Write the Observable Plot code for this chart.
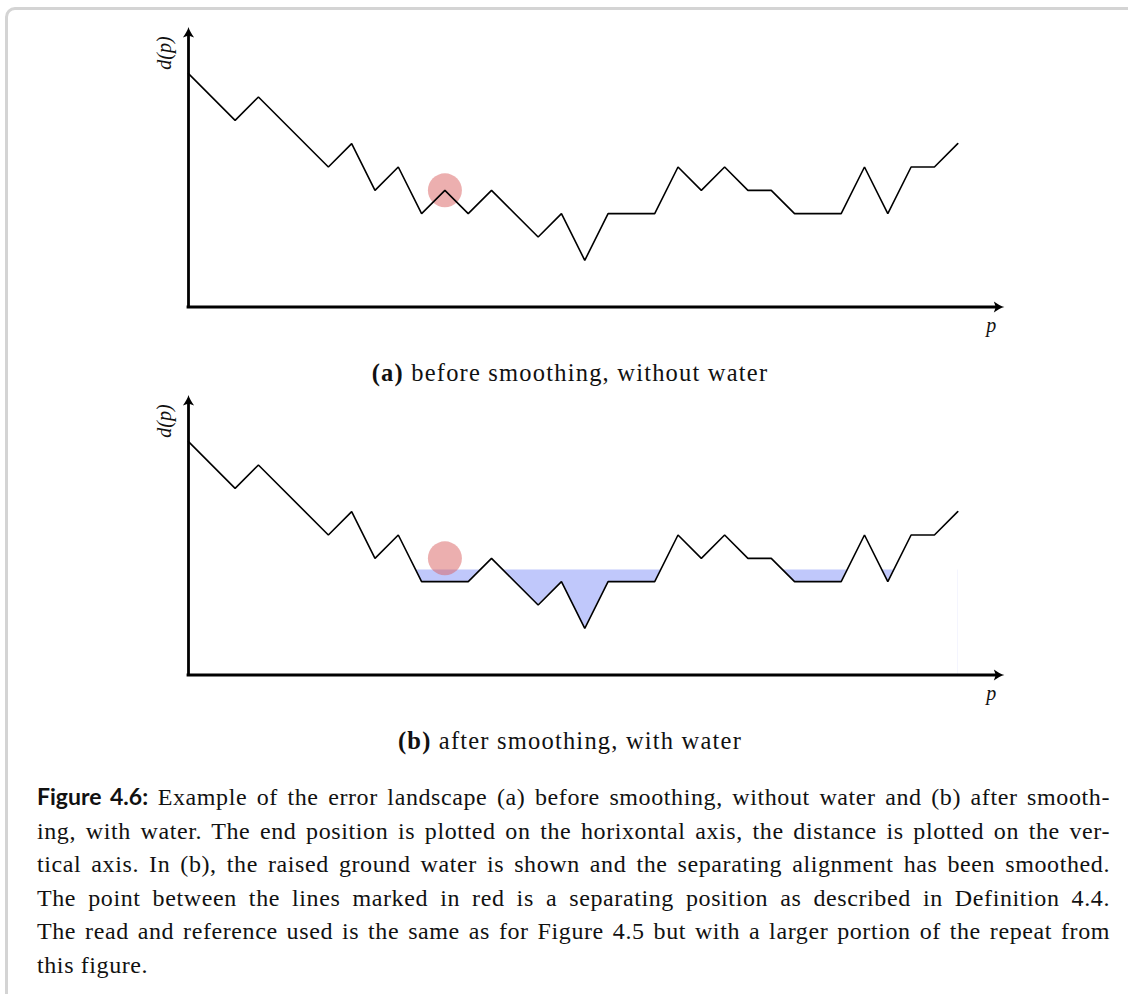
<!DOCTYPE html>
<html>
<head>
<meta charset="utf-8">
<script src="https://cdn.jsdelivr.net/npm/d3@7"></script>
<script src="https://cdn.jsdelivr.net/npm/@observablehq/plot@0.6"></script>
<style>
  html, body { margin: 0; padding: 0; background: #fff; }
  body { width: 1128px; height: 994px; overflow: hidden; position: relative; }
  #frame { position: absolute; left: 5px; top: 7px; width: 1200px; height: 1100px;
           border: 3px solid #d4d4d4; border-radius: 10px; box-sizing: border-box; }
  .chart { position: absolute; left: 0; width: 1128px; }
  .sub { position: absolute; left: 0; width: 1140px; text-align: center;
         font-family: "Liberation Serif", serif; font-size: 24.5px; line-height: 22px;
         letter-spacing: 1.2px; color: #111; }
  .sub b { font-weight: bold; }
  #caption { position: absolute; left: 37px; top: 780px; width: 1073px;
             font-family: "Liberation Serif", serif; font-size: 24px; line-height: 33.6px;
             letter-spacing: 0.6px; color: #111; }
  #caption .ln { text-align: justify; text-align-last: justify; white-space: nowrap; }
  #caption .last { text-align: left; text-align-last: left; }
  #caption .fig { font-family: Lato, "Open Sans", sans-serif; font-weight: bold; font-size: 23px; letter-spacing: 0; }
</style>
</head>
<body>
<div id="frame"></div>
<div id="chartA" class="chart" style="top:0px"></div>
<div class="sub" style="top:362px"><b>(a)</b> before smoothing, without water</div>
<div id="chartB" class="chart" style="top:368px"></div>
<div class="sub" style="top:730px"><b>(b)</b> after smoothing, with water</div>
<div id="caption">
  <div class="ln"><span class="fig">Figure 4.6:</span> Example of the error landscape (a) before smoothing, without water and (b) after smooth-</div>
  <div class="ln">ing, with water. The end position is plotted on the horixontal axis, the distance is plotted on the ver-</div>
  <div class="ln">tical axis. In (b), the raised ground water is shown and the separating alignment has been smoothed.</div>
  <div class="ln">The point between the lines marked in red is a separating position as described in Definition 4.4.</div>
  <div class="ln">The read and reference used is the same as for Figure 4.5 but with a larger portion of the repeat from</div>
  <div class="ln last">this figure.</div>
</div>
<script>
// ---- data ----
const pBefore = [0, 2, 3, 6, 7, 8, 9, 10, 11, 12, 13, 15, 16, 17, 18, 20, 21, 22, 23, 24, 25, 26, 28, 29, 30, 31, 32, 33];
const dBefore = [10, 8, 9, 6, 7, 5, 6, 4, 5, 4, 5, 3, 4, 2, 4, 4, 6, 5, 6, 5, 5, 4, 4, 6, 4, 6, 6, 7];
const pAfter  = [0, 2, 3, 6, 7, 8, 9, 10, 12, 13, 15, 16, 17, 18, 20, 21, 22, 23, 24, 25, 26, 28, 29, 30, 31, 32, 33];
const dAfter  = [10, 8, 9, 6, 7, 5, 6, 4, 4, 5, 3, 4, 2, 4, 4, 6, 5, 6, 5, 5, 4, 4, 6, 4, 6, 6, 7];
const sepP = [11];
const sepD = [5];
const waterLevel = [4.5];
const xAxisMax = 35;
const yAxisMax = 12;
const xLabel = "p";
const yLabel = "d(p)";

// ---- styling ----
const W = 1128, H = 345;
const mLeft = 188, unit = 23.31;
const mTop = 26.5, mBottom = H - 306.5;
const mRight = W - mLeft - xAxisMax * unit;
const waterColor = "#c0c8fb";
const dotColor = "#d95f5f";

const arrowUp = { draw(ctx) {
  ctx.moveTo(0, 0);
  ctx.bezierCurveTo(0.8, 3, 3, 7, 5.6, 10.5);
  ctx.lineTo(0, 8.6);
  ctx.lineTo(-5.6, 10.5);
  ctx.bezierCurveTo(-3, 7, -0.8, 3, 0, 0);
  ctx.closePath();
}};
const arrowRight = { draw(ctx) {
  ctx.moveTo(0, 0);
  ctx.bezierCurveTo(-3, 0.8, -7, 3, -10.5, 5.6);
  ctx.lineTo(-8.6, 0);
  ctx.lineTo(-10.5, -5.6);
  ctx.bezierCurveTo(-7, -3, -3, -0.8, 0, 0);
  ctx.closePath();
}};

function chart(pArr, dArr, withWater) {
  const data = pArr.map((x, i) => ({p: x, d: dArr[i]}));
  const sep = sepP.map((x, i) => ({p: x, d: sepD[i]}));
  const marks = [];
  if (withWater) {
    marks.push(Plot.rect([{x1: d3.min(pArr), x2: d3.max(pArr), y1: 0, y2: waterLevel[0]}],
      {x1: "x1", x2: "x2", y1: "y1", y2: "y2", fill: waterColor}));
    marks.push(Plot.areaY(data, {x: "p", y: "d", fill: "white"}));
  }
  if (!withWater) marks.push(Plot.dot(sep, {x: "p", y: "d", r: 17, fill: dotColor, fillOpacity: 0.5, stroke: "none"}));
  marks.push(Plot.line(data, {x: "p", y: "d", stroke: "black", strokeWidth: 1.6, strokeLinejoin: "miter"}));
  if (withWater) marks.push(Plot.dot(sep, {x: "p", y: "d", r: 17, fill: dotColor, fillOpacity: 0.5, stroke: "none"}));
  // axes
  marks.push(Plot.ruleY([0], {x1: 0, x2: xAxisMax - 6 / unit, stroke: "black", strokeWidth: 2.8, strokeLinecap: "square"}));
  marks.push(Plot.ruleX([0], {y1: 0, y2: yAxisMax - 6 / unit, stroke: "black", strokeWidth: 2.8, strokeLinecap: "square"}));
  marks.push(Plot.dot([{x: xAxisMax, y: 0}], {x: "x", y: "y", symbol: arrowRight, fill: "black", stroke: "none", r: 3}));
  marks.push(Plot.dot([{x: 0, y: yAxisMax}], {x: "x", y: "y", symbol: arrowUp, fill: "black", stroke: "none", r: 3}));
  marks.push(Plot.text([{x: xAxisMax, y: 0, t: xLabel}], {x: "x", y: "y", text: "t", dx: -13, dy: 19,
    fontFamily: "Liberation Serif", fontStyle: "italic", fontSize: 20, fill: "#111"}));
  marks.push(Plot.text([{x: 0, y: yAxisMax, t: yLabel}], {x: "x", y: "y", text: "t", dx: -24, dy: 26, rotate: -90,
    fontFamily: "Liberation Serif", fontStyle: "italic", fontSize: 20, fill: "#111"}));
  return Plot.plot({
    width: W, height: H,
    marginLeft: mLeft, marginRight: mRight, marginTop: mTop, marginBottom: mBottom,
    x: {domain: [0, xAxisMax], axis: null},
    y: {domain: [0, yAxisMax], axis: null},
    style: {background: "transparent", overflow: "visible"},
    marks
  });
}

document.getElementById("chartA").appendChild(chart(pBefore, dBefore, false));
document.getElementById("chartB").appendChild(chart(pAfter, dAfter, true));
</script>
</body>
</html>
